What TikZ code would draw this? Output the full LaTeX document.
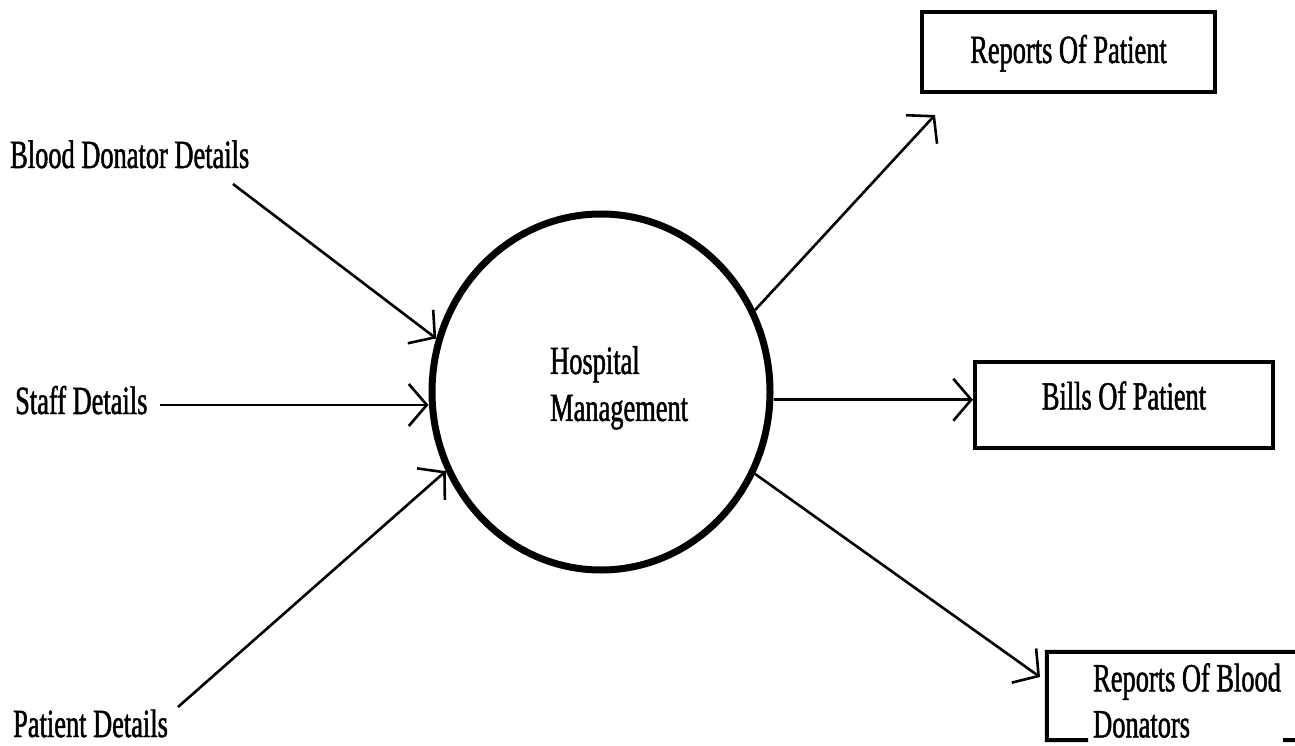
\documentclass[tikz,border=0pt]{standalone}
\usepackage{fontspec}
\setmainfont[FakeStretch=0.66,FakeBold=1.2]{Liberation Serif}
\usetikzlibrary{arrows.meta,shapes.geometric}
\begin{document}
\begin{tikzpicture}[x=1pt,y=-1pt,
  lbl/.style={font=\fontsize{40}{47}\selectfont, inner sep=0pt},
  box/.style={draw, line width=4pt, rectangle, font=\fontsize{40}{44}\selectfont, inner sep=0pt},
  flow/.style={line width=2.6pt, -{Straight Barb[length=18pt,width=42pt,line width=2.6pt]}}]
\useasboundingbox (0,0) rectangle (1295,746);
\fill[white] (0,0) rectangle (1295,746);
% external entities (labels)
\node[lbl, anchor=base west] (bdd) at (10,168) {Blood Donator Details};
\node[lbl, anchor=base west] (sd) at (15,414) {Staff Details};
\node[lbl, anchor=base west] (pd) at (13,737) {Patient Details};
% process
\node[ellipse, draw, line width=7pt, minimum width=338pt, minimum height=356pt] (hm) at (601,392) {};
\node[lbl, anchor=north west, align=left] (hmt) at (550,346) {Hospital\\Management};
% outputs
\node[box, minimum width=293pt, minimum height=80pt, text height=30pt, text depth=8pt] (rp) at (1068.5,52) {Reports Of Patient};
\node[box, minimum width=298pt, minimum height=86pt, text height=25pt, text depth=16pt] (bl) at (1124,405) {Bills Of Patient};
\node[rectangle, minimum width=260pt, minimum height=88pt, inner sep=0pt] (rb) at (1177,696) {};
\draw[line width=4pt] (1088,740) -- (rb.south west) -- (rb.north west) -- (rb.north east);
\draw[line width=4pt] (1283,740) -- (rb.south east);
\node[lbl, anchor=north west, align=left, font=\fontsize{40}{46}\selectfont] (rbt) at (1093,663) {Reports Of Blood\\Donators};
% free ends
\coordinate (bddS) at (233,184);
\coordinate (sdS) at (160,405);
\coordinate (pdS) at (178,707);
\coordinate (rpIn) at (935,115);
\coordinate (rbIn) at (1040,677);
% connectors
\draw[flow] (bddS) -- (hm.162.5);
\draw[flow] (sdS) -- (sdS -| hm.west);
\draw[flow] (pdS) -- (hm.207.7);
\draw[flow] (hm.28) -- (rpIn);
\draw[flow] (hm.east |- bl.178) -- (bl.178);
\draw[flow] (hm.332.5) -- (rbIn);
\end{tikzpicture}
\end{document}
